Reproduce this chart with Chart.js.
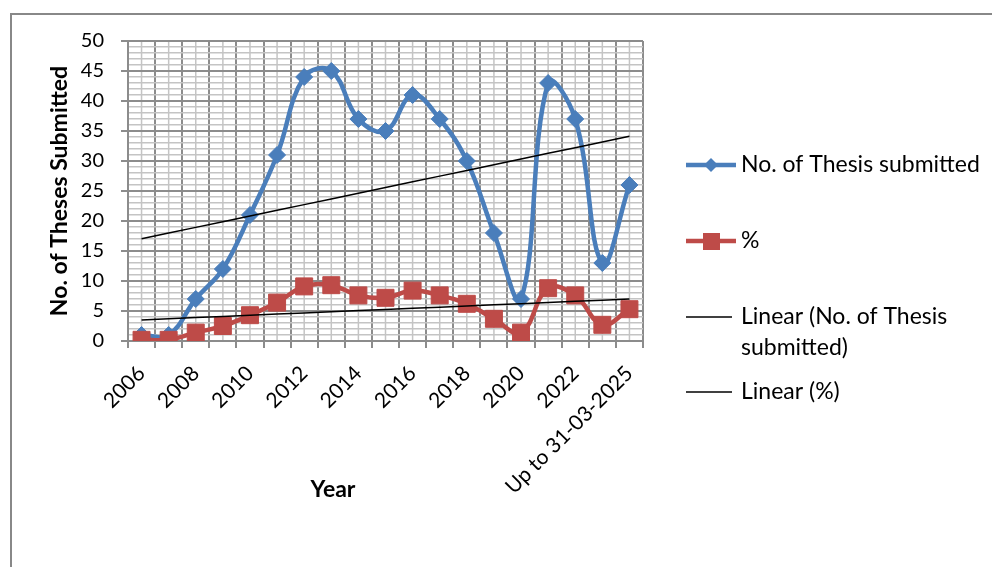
<!DOCTYPE html>
<html>
<head>
<meta charset="utf-8">
<script src="https://cdn.jsdelivr.net/npm/chart.js@4/dist/chart.umd.min.js"></script>
<style>
  html, body { margin: 0; padding: 0; background: #ffffff; }
  canvas { display: block; }
</style>
</head>
<body>
<canvas id="chart" width="992" height="567"></canvas>
<script>
// Year categories (the last one is a partial period)
const years = ['2006', '2007', '2008', '2009', '2010', '2011', '2012', '2013', '2014',
  '2015', '2016', '2017', '2018', '2019', '2020', '2021', '2022', '2023', 'Up to 31-03-2025'];

// Theses submitted per year
const thesesSubmitted = [1, 1, 7, 12, 21, 31, 44, 45, 37, 35, 41, 37, 30, 18, 7, 43, 37, 13, 26];

// Share of all submissions, in percent
const percentShare = [0.2, 0.2, 1.4, 2.5, 4.3, 6.4, 9.1, 9.3, 7.6, 7.2, 8.4, 7.6, 6.2, 3.7, 1.4, 8.8, 7.6, 2.7, 5.3];

// Value axis
const yMin = 0;
const yMax = 50;
const yMajorStep = 5;

const seriesNames = ['No. of Thesis submitted', '%', 'Linear (No. of Thesis submitted)', 'Linear (%)'];
const xAxisTitle = 'Year';
const yAxisTitle = 'No. of Theses Submitted';

const BLUE = '#4a7ebb';
const RED = '#be4b48';
const MAJOR = '#8c8c8c';
const MINOR = '#c4c4c4';
const FONT = 'Lato, "Open Sans", sans-serif';
const X_TICK_SIZE = 21;
const Y_TICK_SIZE = 20;
const TEXT_SIZE = 23;

// Least-squares straight line through a series, evaluated at each category index
function linearTrend(values) {
  const n = values.length;
  let sx = 0, sy = 0, sxx = 0, sxy = 0;
  values.forEach((v, i) => { sx += i; sy += v; sxx += i * i; sxy += i * v; });
  const slope = (n * sxy - sx * sy) / (n * sxx - sx * sx);
  const intercept = (sy - slope * sx) / n;
  return values.map((_, i) => intercept + slope * i);
}

// Light gridlines through the category centres, under the main grid
const minorCategoryGrid = {
  id: 'minorCategoryGrid',
  beforeDraw(chart) {
    const { ctx, chartArea, scales } = chart;
    ctx.save();
    ctx.strokeStyle = MINOR;
    ctx.lineWidth = 1.5;
    years.forEach((_, i) => {
      const x = scales.x.getPixelForValue(i);
      ctx.beginPath();
      ctx.moveTo(x, chartArea.top);
      ctx.lineTo(x, chartArea.bottom);
      ctx.stroke();
    });
    ctx.restore();
  }
};

// Outer frame of the chart object
const frame = {
  id: 'frame',
  beforeDraw(chart) {
    const ctx = chart.ctx;
    ctx.save();
    ctx.fillStyle = '#ffffff';
    ctx.fillRect(0, 0, chart.width, chart.height);
    ctx.strokeStyle = '#888888';
    ctx.lineWidth = 2;
    ctx.strokeRect(11, 14, chart.width + 40, chart.height + 40);
    ctx.restore();
  }
};

// Category axis title, set under the labels left of centre
const xTitle = {
  id: 'xTitle',
  afterDraw(chart) {
    const ctx = chart.ctx;
    ctx.save();
    ctx.font = 'bold ' + TEXT_SIZE + 'px ' + FONT;
    ctx.fillStyle = '#000';
    ctx.textAlign = 'center';
    ctx.textBaseline = 'middle';
    ctx.fillText(xAxisTitle, 333, 490);
    ctx.restore();
  }
};

// Legend on the right, with line and marker samples
const sideLegend = {
  id: 'sideLegend',
  afterDraw(chart) {
    const ctx = chart.ctx;
    const x0 = 686, x1 = 736, xm = 711, tx = 741;
    ctx.save();
    ctx.font = TEXT_SIZE + 'px ' + FONT;
    ctx.fillStyle = '#000';
    ctx.textBaseline = 'middle';
    ctx.textAlign = 'left';

    // blue line with diamond
    let y = 165;
    ctx.strokeStyle = BLUE; ctx.lineWidth = 4.5;
    ctx.beginPath(); ctx.moveTo(x0, y); ctx.lineTo(x1, y); ctx.stroke();
    ctx.fillStyle = BLUE;
    ctx.beginPath(); ctx.moveTo(xm - 7, y); ctx.lineTo(xm, y - 7); ctx.lineTo(xm + 7, y); ctx.lineTo(xm, y + 7); ctx.closePath(); ctx.fill();
    ctx.fillStyle = '#000';
    ctx.fillText(seriesNames[0], tx, y);

    // red line with square
    y = 241;
    ctx.strokeStyle = RED;
    ctx.beginPath(); ctx.moveTo(x0, y); ctx.lineTo(x1, y); ctx.stroke();
    ctx.fillStyle = RED;
    ctx.fillRect(xm - 8, y - 8, 17, 17);
    ctx.fillStyle = '#000';
    ctx.fillText(seriesNames[1], tx, y);

    // trend lines
    ctx.strokeStyle = '#000'; ctx.lineWidth = 1.5;
    y = 317;
    ctx.beginPath(); ctx.moveTo(x0, y); ctx.lineTo(x1 - 4, y); ctx.stroke();
    ctx.fillText('Linear (No. of Thesis', tx, y);
    ctx.fillText('submitted)', tx, y + 31);
    y = 392;
    ctx.beginPath(); ctx.moveTo(x0, y); ctx.lineTo(x1 - 4, y); ctx.stroke();
    ctx.fillText(seriesNames[3], tx, y);
    ctx.restore();
  }
};

const isMajor = v => v % yMajorStep === 0;

new Chart(document.getElementById('chart'), {
  type: 'line',
  data: {
    labels: years,
    datasets: [
      {
        label: seriesNames[2],
        data: linearTrend(thesesSubmitted),
        borderColor: '#000', borderWidth: 1.5, pointRadius: 0, tension: 0, order: 0
      },
      {
        label: seriesNames[3],
        data: linearTrend(percentShare),
        borderColor: '#000', borderWidth: 1.5, pointRadius: 0, tension: 0, order: 0
      },
      {
        label: seriesNames[1],
        data: percentShare,
        borderColor: RED, backgroundColor: RED, borderWidth: 4.5,
        pointStyle: 'rect', pointRadius: 12, pointBorderWidth: 1,
        pointBorderColor: RED, pointBackgroundColor: RED,
        tension: 0.4, order: 1
      },
      {
        label: seriesNames[0],
        data: thesesSubmitted,
        borderColor: BLUE, backgroundColor: BLUE, borderWidth: 4.5,
        pointStyle: 'rectRot', pointRadius: 8.5, pointBorderWidth: 1,
        pointBorderColor: BLUE, pointBackgroundColor: BLUE,
        tension: 0.4, order: 2
      }
    ]
  },
  options: {
    responsive: false,
    animation: false,
    devicePixelRatio: 1,
    layout: { padding: { left: 20, right: 349, top: 41, bottom: 62 } },
    plugins: {
      legend: { display: false },
      tooltip: { enabled: false }
    },
    scales: {
      x: {
        offset: true,
        grid: { offset: true, color: MAJOR, tickColor: MAJOR, tickLength: 7, lineWidth: 2 },
        border: { color: MAJOR, width: 2 },
        ticks: {
          autoSkip: false, minRotation: 45, maxRotation: 45, padding: 13,
          color: '#000', font: { family: FONT, size: X_TICK_SIZE },
          callback(value, index) { return index % 2 === 0 ? this.getLabelForValue(value) : ''; }
        },
        title: { display: false },
        afterFit(scale) { scale.height = 164; }
      },
      y: {
        min: yMin, max: yMax,
        grid: {
          color: c => isMajor(c.tick.value) ? MAJOR : MINOR,
          lineWidth: c => isMajor(c.tick.value) ? 2 : 1.5,
          tickColor: c => isMajor(c.tick.value) ? MAJOR : 'rgba(0,0,0,0)',
          tickLength: 7
        },
        border: { color: MAJOR, width: 2 },
        ticks: {
          stepSize: 1, autoSkip: false, maxTicksLimit: 100, padding: 17,
          color: '#000', font: { family: FONT, size: Y_TICK_SIZE },
          callback: v => isMajor(v) ? String(v) : ''
        },
        title: {
          display: true, text: yAxisTitle, color: '#000',
          font: { family: FONT, size: TEXT_SIZE, weight: 'bold' }, padding: { top: 26, bottom: 0 }
        },
        afterFit(scale) { scale.width = 108; }
      }
    }
  },
  plugins: [frame, minorCategoryGrid, xTitle, sideLegend]
});
</script>
</body>
</html>
